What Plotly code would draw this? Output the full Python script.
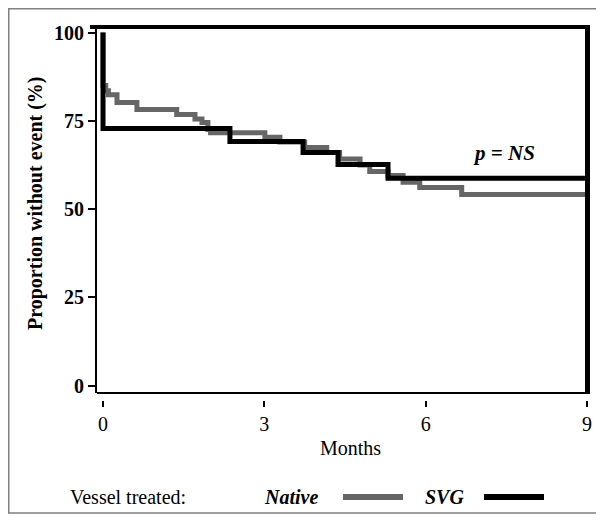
import plotly.graph_objects as go

# Data
native_months = [0, 0, 0.05, 0.10, 0.26, 0.63, 1.37, 1.71, 1.84, 1.95, 2.00, 3.01, 3.29, 3.75, 4.16, 4.40, 4.78, 4.96, 5.30, 5.58, 5.89, 6.67, 9.0]
native_surv = [100, 85, 83.5, 82.4, 80.2, 78.2, 76.8, 75.5, 74.5, 72.5, 71.6, 70.3, 69.0, 67.4, 66.0, 64.2, 62.5, 60.6, 59.5, 57.6, 56.1, 54.1, 54.1]
svg_months = [0, 0, 2.36, 3.72, 4.37, 5.30, 9.0]
svg_surv = [100, 72.8, 69.1, 66.0, 62.6, 58.7, 58.7]
x_ticks = [0, 3, 6, 9]
y_ticks = [0, 25, 50, 75, 100]

SERIF = "Liberation Serif, Times New Roman, serif"
GRAY = "#666666"

fig = go.Figure()
fig.add_trace(go.Scatter(x=native_months, y=native_surv, mode="lines",
                         line=dict(shape="hv", color=GRAY, width=5),
                         showlegend=False, hoverinfo="skip"))
fig.add_trace(go.Scatter(x=svg_months, y=svg_surv, mode="lines",
                         line=dict(shape="hv", color="black", width=5),
                         showlegend=False, hoverinfo="skip"))

OFF = 8  # page body margin
W, H = 604 - OFF, 520 - OFF
L, R, T, B = 97 - OFF, 14, 27 - OFF, 120
pw = W - L - R
ph = H - T - B


def px(xp):
    return (xp - OFF - L) / pw


def py(yp):
    return (H - B - (yp - OFF)) / ph


ydom0 = 7 / ph

fig.update_layout(
    width=W, height=H,
    margin=dict(l=L, r=R, t=T, b=B),
    paper_bgcolor="white", plot_bgcolor="white",
    font=dict(family=SERIF, color="black", size=20),
    xaxis=dict(range=[-0.112, 9.056], tickvals=x_ticks, ticktext=[str(v) for v in x_ticks],
               anchor="free", position=0, showline=False, showgrid=False, zeroline=False,
               ticks="outside", ticklen=6, tickwidth=2, tickcolor="black",
               tickfont=dict(family=SERIF, size=20)),
    yaxis=dict(domain=[ydom0, 1], range=[-2.12, 101.56], tickvals=y_ticks,
               showline=True, linewidth=2, linecolor="black", showgrid=False, zeroline=False,
               ticks="outside", ticklen=7, tickwidth=2, tickcolor="black",
               tickfont=dict(family=SERIF, size=20, weight="bold")),
)

shapes = [
    # bottom axis line
    dict(type="line", xref="paper", yref="paper", x0=0, x1=1, y0=ydom0, y1=ydom0,
         line=dict(color="black", width=2)),
    # top border
    dict(type="line", xref="paper", yref="paper", x0=px(90), x1=px(590), y0=1, y1=1,
         line=dict(color="black", width=4)),
    # right border
    dict(type="line", xref="paper", yref="paper", x0=px(587.5), x1=px(587.5), y0=py(394), y1=py(25),
         line=dict(color="black", width=5)),
    # outer frame
    dict(type="rect", xref="paper", yref="paper", x0=px(OFF + 0.75), x1=px(598), y0=py(513), y1=py(OFF + 0.75),
         line=dict(color="#808080", width=1.5)),
    # legend samples
    dict(type="line", xref="paper", yref="paper", x0=px(343), x1=px(403), y0=py(497), y1=py(497),
         line=dict(color=GRAY, width=6)),
    dict(type="line", xref="paper", yref="paper", x0=px(484), x1=px(544), y0=py(497), y1=py(497),
         line=dict(color="black", width=6)),
]
fig.update_layout(shapes=shapes)

annotations = [
    dict(text="Proportion without event (%)", xref="paper", yref="paper", x=px(35), y=py(203),
         textangle=-90, showarrow=False, font=dict(family=SERIF, size=20, weight="bold"),
         xanchor="center", yanchor="middle"),
    dict(text="Months", xref="paper", yref="paper", x=px(350), y=py(448), showarrow=False,
         font=dict(family=SERIF, size=20), xanchor="center", yanchor="middle"),
    dict(text="<b><i>p = NS</i></b>", xref="x", yref="y", x=6.84, y=65.9, showarrow=False,
         font=dict(family=SERIF, size=21), xanchor="left", yanchor="middle"),
    dict(text="Vessel treated:", xref="paper", yref="paper", x=px(68), y=py(497), showarrow=False,
         font=dict(family=SERIF, size=20), xanchor="left", yanchor="middle"),
    dict(text="<b><i>Native</i></b>", xref="paper", yref="paper", x=px(262), y=py(497), showarrow=False,
         font=dict(family=SERIF, size=20), xanchor="left", yanchor="middle"),
    dict(text="<b><i>SVG</i></b>", xref="paper", yref="paper", x=px(423), y=py(497), showarrow=False,
         font=dict(family=SERIF, size=20), xanchor="left", yanchor="middle"),
]
fig.update_layout(annotations=annotations)

fig.write_html("out.html")
